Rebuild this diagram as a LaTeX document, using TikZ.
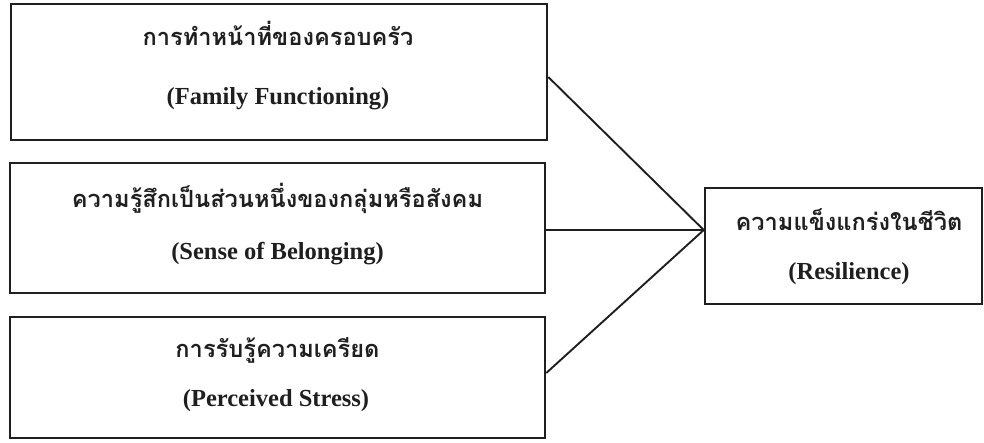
\documentclass[tikz,border=0pt]{standalone}
\usepackage{fontspec}
\setmainfont{Liberation Serif}
\newfontfamily\thaifont[Script=Thai]{Loma}
\tikzset{
  box/.style={draw=black!88, line width=2.5pt, inner sep=0pt, fill=none},
  link/.style={draw=black!88, line width=1.9pt},
  thaitxt/.style={anchor=base, inner sep=0pt, font=\thaifont\bfseries\fontsize{23.6pt}{27pt}\selectfont, text=black!88},
  entxt/.style={anchor=base, inner sep=0pt, font=\bfseries\fontsize{24.5pt}{28pt}\selectfont, text=black!88}
}
\begin{document}
\begin{tikzpicture}[x=1pt,y=-1pt]
\useasboundingbox (0,0) rectangle (984,442);
% boxes
\node[box, minimum width=536pt, minimum height=136pt] (b1) at (279,72) {};
\node[box, minimum width=535pt, minimum height=130pt] (b2) at (277.5,228) {};
\node[box, minimum width=535pt, minimum height=121pt] (b3) at (277.5,377.5) {};
\node[box, minimum width=277pt, minimum height=116pt] (b4) at (843.5,246) {};
% texts
\node[thaitxt] (t1) at (278,45) {การทำหน้าที่ของครอบครัว};
\node[entxt] (e1) at (278,104) {(Family Functioning)};
\node[thaitxt] (t2) at (277.5,207) {ความรู้สึกเป็นส่วนหนึ่งของกลุ่มหรือสังคม};
\node[entxt] (e2) at (277.5,259) {(Sense of Belonging)};
\node[thaitxt] (t3) at (277.5,357) {การรับรู้ความเครียด};
\node[entxt] (e3) at (276,406) {(Perceived Stress)};
\node[thaitxt] (t4) at (849,230) {ความแข็งแกร่งในชีวิต};
\node[entxt] (e4) at (849,279) {(Resilience)};
% connectors
\coordinate (conv) at ([yshift=16pt]b4.west);
\draw[link] ([yshift=-5pt]b1.east) -- (conv);
\draw[link] ([yshift=-2pt]b2.east) -- (conv);
\draw[link] ([yshift=4.5pt]b3.east) -- (conv);
\end{tikzpicture}
\end{document}
